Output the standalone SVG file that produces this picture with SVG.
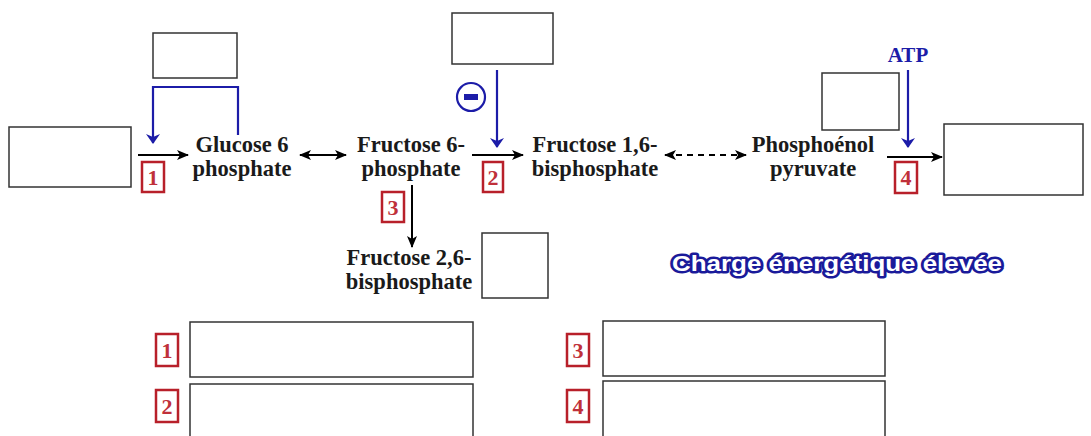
<svg xmlns="http://www.w3.org/2000/svg" width="1091" height="436" viewBox="0 0 1091 436">
<defs>
<marker id="ak" viewBox="0 0 12 10" refX="11" refY="5" markerWidth="12" markerHeight="10" markerUnits="userSpaceOnUse" orient="auto-start-reverse"><path d="M0,0 L12,5 L0,10 L3,5 z" fill="#000"/></marker>
<marker id="ab" viewBox="0 0 10 14" refX="9" refY="7" markerWidth="10" markerHeight="14" markerUnits="userSpaceOnUse" orient="auto"><path d="M0,0 L10,7 L0,14 L3,7 z" fill="#1c1ca8"/></marker>
</defs>
<style>
.box{fill:#fff;stroke:#333;stroke-width:1.5}
.num{fill:#fff;stroke:#b8202a;stroke-width:2.5}
.numt{font-family:"Liberation Serif",serif;font-weight:bold;font-size:22px;fill:#c0303a;text-anchor:middle}
.lbl{font-family:"Liberation Serif",serif;font-weight:bold;font-size:22.5px;fill:#1a1a1a;text-anchor:middle}
.k{stroke:#000;stroke-width:2;fill:none}
.b{stroke:#1c1ca8;stroke-width:2.2;fill:none}
</style>
<rect width="1091" height="436" fill="#fff"/>

<g id="connectors">
<path class="b" d="M238,135 V87 H153 V143" marker-end="url(#ab)"/>
<line class="b" x1="497" y1="70" x2="497" y2="147" marker-end="url(#ab)"/>
<line class="b" x1="908" y1="70" x2="908" y2="147" marker-end="url(#ab)"/>
<line class="k" x1="138" y1="155" x2="188" y2="155" marker-end="url(#ak)"/>
<line class="k" x1="300" y1="155" x2="346" y2="155" marker-start="url(#ak)" marker-end="url(#ak)"/>
<line class="k" x1="472" y1="155" x2="523" y2="155" marker-end="url(#ak)"/>
<line class="k" x1="665" y1="155" x2="746" y2="155" stroke-dasharray="6,5" marker-start="url(#ak)" marker-end="url(#ak)"/>
<line class="k" x1="887" y1="157" x2="942" y2="157" marker-end="url(#ak)"/>
<line class="k" x1="412" y1="185" x2="412" y2="247" marker-end="url(#ak)"/>
</g>

<g id="box-substrate"><rect class="box" x="9" y="127" width="122" height="60"/></g>
<g id="box-top1"><rect class="box" x="153" y="33" width="84" height="45"/></g>
<g id="box-top2"><rect class="box" x="452" y="13" width="101" height="51"/></g>
<g id="box-top4"><rect class="box" x="822" y="73" width="77" height="57"/></g>
<g id="box-product"><rect class="box" x="944" y="124" width="139" height="71"/></g>
<g id="box-f26"><rect class="box" x="482" y="233" width="66" height="65"/></g>

<g id="inhib">
<circle cx="471" cy="97" r="14" fill="#fff" stroke="#1c1ca8" stroke-width="2.2"/>
<rect x="464" y="94" width="14" height="6" fill="#1c1ca8"/>
</g>

<g id="atp"><text x="908" y="62" text-anchor="middle" style="font-family:'Liberation Serif',serif;font-weight:bold;font-size:21px;fill:#1c1ca8">ATP</text></g>

<g id="g6p"><text class="lbl" x="242" y="152">Glucose 6</text><text class="lbl" x="242" y="176">phosphate</text></g>
<g id="f6p"><text class="lbl" x="411" y="152">Fructose 6-</text><text class="lbl" x="411" y="176">phosphate</text></g>
<g id="f16bp"><text class="lbl" x="595" y="152">Fructose 1,6-</text><text class="lbl" x="595" y="176">bisphosphate</text></g>
<g id="pep"><text class="lbl" x="813" y="152">Phosphoénol</text><text class="lbl" x="813" y="176">pyruvate</text></g>
<g id="f26bp"><text class="lbl" x="409" y="265">Fructose 2,6-</text><text class="lbl" x="409" y="289">bisphosphate</text></g>

<g id="n1"><rect class="num" x="142" y="162" width="22" height="30"/><text class="numt" x="153" y="185">1</text></g>
<g id="n2"><rect class="num" x="483" y="162" width="20" height="30"/><text class="numt" x="493" y="185">2</text></g>
<g id="n3"><rect class="num" x="382" y="192" width="22" height="30"/><text class="numt" x="393" y="215">3</text></g>
<g id="n4"><rect class="num" x="895" y="162" width="22" height="31"/><text class="numt" x="906" y="185">4</text></g>

<g id="charge"><text x="672" y="271" textLength="330" lengthAdjust="spacingAndGlyphs" style="font-family:'Liberation Sans',sans-serif;font-weight:bold;font-size:22px;fill:#fff;stroke:#1a1a9a;stroke-width:5;stroke-linejoin:round;paint-order:stroke">Charge énergétique élevée</text></g>

<g id="legend1"><rect class="num" x="156" y="334" width="22" height="32"/><text class="numt" x="167" y="358">1</text><rect class="box" x="190" y="322" width="283" height="55"/></g>
<g id="legend2"><rect class="num" x="156" y="390" width="22" height="32"/><text class="numt" x="167" y="414">2</text><rect class="box" x="190" y="384" width="283" height="56"/></g>
<g id="legend3"><rect class="num" x="567" y="334" width="22" height="32"/><text class="numt" x="578" y="358">3</text><rect class="box" x="603" y="321" width="282" height="55"/></g>
<g id="legend4"><rect class="num" x="567" y="390" width="22" height="32"/><text class="numt" x="578" y="414">4</text><rect class="box" x="603" y="381" width="282" height="59"/></g>
</svg>
